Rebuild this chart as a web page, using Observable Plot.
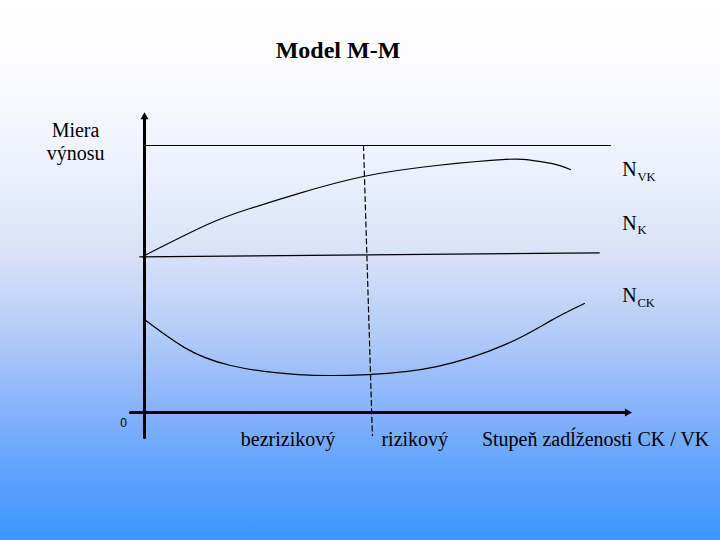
<!DOCTYPE html>
<html>
<head>
<meta charset="utf-8">
<script src="https://cdn.jsdelivr.net/npm/d3@7"></script>
<script src="https://cdn.jsdelivr.net/npm/@observablehq/plot@0.6"></script>
<style>
  html, body { margin: 0; padding: 0; }
  body {
    width: 720px; height: 540px; position: relative; overflow: hidden;
    background: linear-gradient(to bottom, #ffffff 0%, #fcfcff 12%, #eef2fd 30%, #d6e1f8 48%, #b3cbf8 62%, #86b2fb 76%, #5ea2fe 88%, #3b96ff 100%);
  }
  #title {
    position: absolute; left: 0; width: 676px; top: 37px; text-align: center;
    font-family: 'Liberation Serif', 'DejaVu Serif', serif; font-weight: bold;
    font-size: 24px; line-height: 26px; color: #000;
  }
  #chart { position: absolute; left: 0; top: 0; }
  svg { background: transparent !important; }
</style>
</head>
<body>
<div id="title">Model M-M</div>
<div id="chart"></div>
<script>
// Debt ratio (x) and rate of return (y), in abstract chart units
const nvkX = [0, 1.35, 2.23, 3.30, 4.70, 6.27, 7.75, 8.24, 8.73, 9.14];
const nvkY = [5.88, 7.04, 7.62, 8.20, 8.84, 9.25, 9.48, 9.46, 9.33, 9.10];
const nkX = [-0.1, 9.76];
const nkY = [5.83, 5.98];
const nckX = [0, 0.86, 1.85, 3.30, 4.79, 6.27, 7.75, 8.73, 9.44];
const nckY = [3.48, 2.43, 1.76, 1.42, 1.42, 1.72, 2.55, 3.45, 4.08];
const topX = [0.04, 10];
const topY = [10, 10];
const splitX = [4.70, 4.89];
const splitY = [10, -0.86];
const yAxisY = [-0.94, 11.0];
const xAxisX = [-0.30, 10.3];
const seriesLabels = ["VK", "K", "CK"];
const seriesLabelY = [8.84, 6.84, 4.13];
const regionLabels = ["bezrizikový", "rizikový", "Stupeň zadĺženosti CK / VK"];
const regionLabelX = [3.08, 5.80, 9.68];

const pts = (xs, ys) => xs.map((x, i) => ({x, y: ys[i]}));
const serif = "'Liberation Serif', 'DejaVu Serif', serif";

const chart = Plot.plot({
  width: 720,
  height: 540,
  margin: 0,
  x: {domain: [0, 10], range: [144, 610]},
  y: {domain: [0, 10], range: [412, 145]},
  axis: null,
  style: {background: "transparent", overflow: "visible"},
  marks: [
    // axes
    Plot.line(pts([0, 0], yAxisY), {x: "x", y: "y", stroke: "#000", strokeWidth: 3}),
    Plot.line(pts(xAxisX, [0, 0]), {x: "x", y: "y", stroke: "#000", strokeWidth: 3}),
    Plot.dot([{x: 0, y: 11.07}], {x: "x", y: "y", symbol: "triangle", r: 3, fill: "#000", stroke: null}),
    Plot.dot([{x: 10.36, y: 0}], {x: "x", y: "y", symbol: "triangle", r: 3, fill: "#000", stroke: null, rotate: 90}),
    // curves
    Plot.line(pts(topX, topY), {x: "x", y: "y", stroke: "#000", strokeWidth: 1.2}),
    Plot.line(pts(nvkX, nvkY), {x: "x", y: "y", stroke: "#000", strokeWidth: 1.2, curve: "natural"}),
    Plot.line(pts(nkX, nkY), {x: "x", y: "y", stroke: "#000", strokeWidth: 1.2}),
    Plot.line(pts(nckX, nckY), {x: "x", y: "y", stroke: "#000", strokeWidth: 1.2, curve: "natural"}),
    Plot.line(pts(splitX, splitY), {x: "x", y: "y", stroke: "#000", strokeWidth: 1.2, strokeDasharray: "5,3.5"}),
    // series labels: N + subscript
    Plot.text(seriesLabelY, {x: () => 10.25, y: d => d, text: () => "N", textAnchor: "start", lineAnchor: "bottom", fontSize: 20, fontFamily: serif, fill: "#000"}),
    Plot.text(seriesLabels, {x: () => 10.58, y: (d, i) => seriesLabelY[i], text: d => d, dy: 4.6, textAnchor: "start", lineAnchor: "bottom", fontSize: 12.5, fontFamily: serif, fill: "#000"}),
    // y axis title
    Plot.text(["Miera\nvýnosu"], {x: () => -1.48, y: () => 9.46, text: d => d, lineAnchor: "bottom", lineHeight: 1.165, fontSize: 20, fontFamily: serif, fill: "#000"}),
    // origin
    Plot.text(["0"], {x: () => -0.45, y: () => -0.41, text: d => d, fontSize: 12, fontFamily: "'Liberation Sans', Arial, sans-serif", fill: "#000"}),
    // region labels under x axis
    Plot.text(regionLabels, {x: (d, i) => regionLabelX[i], y: () => -1.27, text: d => d, lineAnchor: "bottom", fontSize: 20, fontFamily: serif, fill: "#000"})
  ]
});
document.getElementById("chart").appendChild(chart);
</script>
</body>
</html>
